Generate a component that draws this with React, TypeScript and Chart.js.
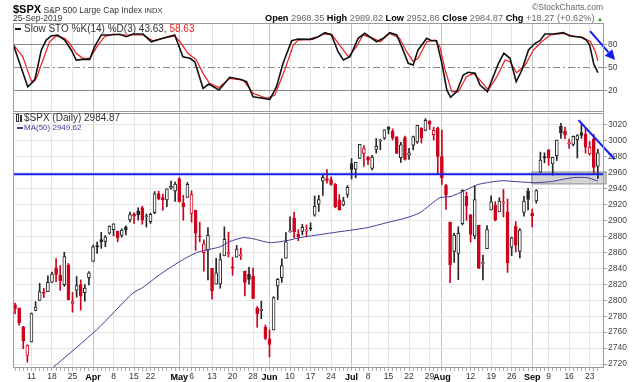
import React, { useEffect, useRef } from "react";
import { Chart, registerables } from "chart.js";
Chart.register(...registerables);

const FONT = "'Liberation Sans', Arial, Helvetica, sans-serif";

// Daily S&P 500 OHLC, 5-Mar-2019 .. 25-Sep-2019 (index 0 .. 142)
const opens = [
  2794.41, 2790.27, 2766.53, 2730.79, 2747.61, 2787.34, 2799.78, 2810.38, 2810.79, 2822.61, 2840.76, 2831.34, 2819.72, 2844.52, 2796.01, 2812.66, 2819.72, 2809.4, 2828.27,
  2848.63, 2868.24, 2876.09, 2873.99, 2884.16, 2888.46, 2886.58, 2881.37, 2891.92, 2900.86, 2908.32, 2912.26, 2916.04, 2904.81, 2898.78, 2909.99, 2934.0, 2928.99, 2925.81, 2940.58, 2937.14,
  2952.33, 2922.16, 2929.21, 2908.89, 2913.03, 2879.61, 2859.84, 2863.1, 2840.19, 2820.12, 2820.38, 2855.8, 2858.6, 2841.94, 2854.02, 2856.06, 2836.7, 2832.41, 2830.03, 2790.25, 2786.94, 2766.15,
  2751.53, 2762.64, 2818.09, 2828.51, 2852.87, 2885.83, 2903.27, 2882.73, 2886.24, 2886.82, 2889.75, 2906.71, 2920.55, 2949.6, 2952.71, 2951.42, 2945.78, 2926.07, 2919.66, 2932.94,
  2971.41, 2964.66, 2978.08, 2984.25, 2979.77, 2965.52, 2989.3, 2999.62, 3003.36, 3017.8, 3012.13, 3005.1, 2978.87, 3004.26, 2981.93, 2994.74, 2998.77, 3016.26, 3013.25, 3024.47, 3007.66, 3016.22,
  2980.32, 2943.9, 2898.07, 2861.18, 2858.65, 2896.21, 2930.51, 2907.07, 2880.72, 2894.15, 2846.2, 2864.74, 2913.48, 2919.01, 2911.01, 2922.04, 2911.07, 2866.7, 2893.14, 2861.28, 2910.37, 2937.09,
  2909.01, 2924.67, 2960.6, 2980.33, 2988.43, 2971.01, 2981.41, 3018.21, 3012.21, 2996.41, 2995.67, 3001.5, 3010.36, 3008.42, 2983.5, 3002.43, 2968.35,
];
const highs = [
  2796.44, 2790.27, 2767.25, 2744.13, 2784.0, 2798.32, 2821.24, 2815.0, 2830.73, 2835.41, 2852.42, 2843.54, 2860.31, 2846.16, 2809.79, 2829.87, 2825.56, 2819.71, 2836.03,
  2869.4, 2872.9, 2885.25, 2881.28, 2893.24, 2895.95, 2886.88, 2889.71, 2893.42, 2910.54, 2909.6, 2916.06, 2918.0, 2908.4, 2909.51, 2936.31, 2936.83, 2933.1, 2939.88, 2949.52, 2948.22,
  2954.13, 2931.68, 2947.85, 2937.32, 2913.03, 2897.96, 2875.97, 2891.31, 2840.19, 2852.54, 2858.68, 2892.15, 2885.48, 2853.86, 2868.88, 2865.47, 2836.7, 2841.36, 2840.51, 2792.03, 2799.0, 2768.98,
  2763.07, 2804.49, 2827.28, 2852.1, 2884.97, 2904.77, 2910.61, 2888.57, 2895.24, 2894.45, 2897.27, 2930.79, 2931.74, 2958.06, 2964.15, 2954.92, 2946.52, 2932.59, 2929.3, 2943.98,
  2977.93, 2973.21, 2995.84, 2994.03, 2980.76, 2981.9, 3002.98, 3002.33, 3013.92, 3017.8, 3015.02, 3005.26, 2998.28, 3006.02, 2990.71, 3005.9, 3019.59, 3016.31, 3027.98, 3025.61, 3017.19, 3017.4,
  3013.59, 2945.5, 2898.07, 2884.4, 2892.17, 2938.72, 2935.75, 2907.58, 2943.31, 2894.15, 2856.67, 2893.63, 2931.0, 2923.63, 2928.73, 2939.08, 2927.01, 2879.27, 2898.79, 2890.03, 2930.5, 2940.43,
  2914.39, 2938.84, 2985.86, 2985.03, 2989.43, 2979.39, 3000.93, 3021.99, 3017.33, 3002.19, 3006.21, 3007.83, 3021.19, 3016.37, 2999.15, 3007.98, 2989.82,
];
const lows = [
  2782.97, 2768.69, 2739.09, 2722.27, 2747.61, 2786.73, 2799.78, 2803.46, 2810.79, 2821.99, 2823.27, 2812.43, 2817.38, 2800.47, 2785.02, 2803.99, 2787.72, 2798.77, 2819.23,
  2848.63, 2858.75, 2865.17, 2867.14, 2882.99, 2880.78, 2873.33, 2879.13, 2881.99, 2898.37, 2896.48, 2900.71, 2895.45, 2891.9, 2896.35, 2908.53, 2926.05, 2912.84, 2917.56, 2939.35, 2924.11,
  2923.36, 2900.5, 2929.21, 2898.21, 2862.6, 2873.28, 2836.4, 2825.39, 2801.43, 2820.12, 2815.08, 2855.8, 2854.23, 2831.29, 2854.02, 2851.11, 2805.49, 2820.19, 2801.58, 2766.06, 2776.74, 2750.52,
  2728.81, 2762.64, 2800.92, 2822.45, 2852.87, 2885.51, 2878.53, 2874.68, 2881.99, 2879.62, 2887.3, 2905.44, 2911.43, 2931.5, 2946.87, 2944.05, 2916.01, 2912.99, 2918.57, 2929.05,
  2952.22, 2953.7, 2977.96, 2967.97, 2970.09, 2963.44, 2984.62, 2988.8, 3001.87, 3008.77, 3001.15, 2984.25, 2973.09, 2975.86, 2976.65, 2988.56, 2996.82, 2997.24, 3012.59, 3014.3, 3000.94, 2958.08,
  2945.23, 2914.11, 2822.12, 2847.42, 2825.71, 2894.47, 2900.15, 2873.14, 2877.05, 2839.64, 2825.51, 2864.74, 2913.48, 2899.6, 2911.01, 2904.51, 2834.97, 2856.0, 2860.59, 2853.05, 2905.67, 2913.32,
  2891.85, 2921.86, 2960.6, 2972.51, 2969.39, 2957.01, 2975.31, 3003.16, 3002.9, 2990.67, 2993.73, 2978.57, 3003.16, 2984.68, 2982.23, 2957.73, 2952.86,
];
const closes = [
  2789.65, 2771.45, 2748.93, 2743.07, 2783.3, 2791.52, 2810.92, 2808.48, 2822.48, 2832.94, 2832.57, 2824.23, 2854.88, 2800.71, 2798.36, 2818.46, 2805.37, 2815.44, 2834.4,
  2867.19, 2867.24, 2873.4, 2879.39, 2892.74, 2895.77, 2878.2, 2888.21, 2888.32, 2907.41, 2905.58, 2907.06, 2900.45, 2905.03, 2907.97, 2933.68, 2927.25, 2926.17, 2939.88, 2943.03, 2945.83,
  2923.73, 2917.52, 2945.64, 2932.47, 2884.05, 2879.42, 2870.72, 2881.4, 2811.87, 2834.41, 2850.96, 2876.32, 2859.53, 2840.23, 2864.36, 2856.27, 2822.24, 2826.06, 2802.39, 2783.02, 2788.86, 2752.06,
  2744.45, 2803.27, 2826.15, 2843.49, 2873.34, 2886.73, 2885.72, 2879.84, 2891.64, 2886.98, 2889.67, 2917.75, 2926.46, 2954.18, 2950.46, 2945.35, 2917.38, 2913.78, 2924.92, 2941.76,
  2964.33, 2973.01, 2995.82, 2990.41, 2975.95, 2979.63, 2993.07, 2999.91, 3013.77, 3014.3, 3004.04, 2984.42, 2995.11, 2976.61, 2985.03, 3005.47, 3019.56, 3003.67, 3025.86, 3020.97, 3013.18, 2980.38,
  2953.56, 2932.05, 2844.74, 2881.77, 2883.98, 2938.09, 2918.65, 2882.7, 2926.32, 2840.6, 2847.6, 2888.68, 2923.65, 2900.51, 2924.43, 2922.95, 2847.11, 2878.38, 2869.16, 2887.94, 2924.58, 2926.46,
  2906.27, 2937.78, 2976.0, 2978.71, 2978.43, 2979.39, 3000.93, 3009.57, 3007.39, 2997.96, 3005.7, 3006.73, 3006.79, 2992.07, 2991.78, 2966.6, 2984.87,
];
const closeBeforeFirst = 2792.81;

// x-axis labels (trading-day index -> text)
const tickDays = [4, 9, 14, 19, 24, 29, 33, 40, 43, 48, 53, 58, 62, 67, 72, 77, 82, 86, 91, 96, 101, 104, 111, 116, 121, 126, 130, 135, 140];
const tickLabels = ["11", "18", "25", "Apr", "8", "15", "22", "May", "6", "13", "20", "28", "Jun", "10", "17", "24", "Jul", "8", "15", "22", "29", "Aug", "12", "19", "26", "Sep", "9", "16", "23"];
const monthLabels = ["Apr", "May", "Jun", "Jul", "Aug", "Sep"];

const priceTicks = [2720, 2740, 2760, 2780, 2800, 2820, 2840, 2860, 2880, 2900, 2920, 2940, 2960, 2980, 3000, 3020];
const stochLevels = [20, 50, 80];

// MA(50): [day index, value]
const ma50: number[][] = [
  [8, 2711], [9.1, 2715], [19.9, 2763], [28.7, 2809], [31.1, 2816], [35.2, 2832], [40.1, 2848.5], [44.3, 2860], [49.9, 2867],
  [52.3, 2873.6], [55.5, 2878.6], [57.9, 2877.3], [62.1, 2872.3], [66.2, 2874.8], [69.4, 2878.6], [77.4, 2884.8], [85.7, 2891],
  [90.6, 2897.4], [95.5, 2903.7], [98.7, 2910], [103.5, 2928.8], [106, 2930], [110.1, 2938.8], [112.6, 2945], [116.5, 2948.8],
  [118.9, 2950], [122.3, 2948.8], [126.2, 2947.6], [130.4, 2948.8], [136, 2953.9], [139.4, 2953.9], [142, 2949.62],
];

// Slow stochastic %K and %D: [day index, value]
const stochK: number[][] = [
  [-0.5, 81], [1.1, 56], [3.1, 25.5], [4.8, 34], [6.4, 72.7], [7.6, 85.5], [8.8, 90.7], [10.4, 92], [12.1, 85.5], [13.7, 72.7],
  [14.9, 59.8], [16.5, 60.7], [18.2, 60.7], [19.4, 77], [21, 92], [23, 92], [25.5, 93], [27.1, 89.8], [28.7, 93.2], [31.2, 93.2],
  [33.2, 83.3], [36, 87.7], [38.9, 92], [40.9, 64], [42.6, 62], [43.8, 57.6], [45.8, 23.4], [47.2, 29], [49.7, 21.3], [52.3, 37.6],
  [54.8, 35], [56.4, 32], [58, 12.6], [62.1, 9.3], [63.7, 25.5], [65.3, 55.6], [67.4, 84.6], [69, 86.8], [71.8, 86.4], [73.9, 89.8],
  [75.5, 95], [77.1, 92], [78.7, 70.5], [80, 59.8], [81.6, 64], [83.6, 87.7], [85.2, 94.1], [88.1, 83.3], [89.7, 87.7], [91.3, 95],
  [93, 92], [94.2, 77], [95.8, 55.6], [97, 53.4], [98.2, 72.7], [100.3, 87.7], [101.5, 84.6], [102.7, 84.6], [104, 55.6], [105.2, 21.3],
  [106.1, 11.9], [107.6, 19.1], [109.2, 40.5], [110.4, 44], [112.1, 42.7], [113.3, 27.7], [115.1, 19.1], [116.5, 38.4], [117.8, 55.6],
  [119.1, 68.4], [120.6, 62], [122.1, 32], [123.5, 47], [125.1, 72.7], [126.7, 81.3], [127.9, 84.6], [129.1, 93.2], [131.2, 93.2],
  [133.6, 95], [135.2, 90.7], [138, 89], [139.2, 85.5], [140, 79], [141, 55], [142, 43.63],
];
const stochD: number[][] = [
  [-0.5, 80.4], [1.9, 64], [4, 32], [5.2, 36.3], [6.8, 59.8], [8.4, 83.3], [10, 90.7], [12.1, 87.7], [13.3, 81.3], [14.9, 68.4],
  [16.5, 62], [18.2, 62], [20.2, 79], [21.8, 89.8], [23.9, 93.2], [26.3, 92], [28.7, 92], [31.2, 92], [33.6, 84.6], [36, 87.7],
  [38.9, 90.7], [40.5, 81.3], [42.1, 68.4], [44.2, 59.8], [45.8, 42.7], [47.4, 30], [49.7, 24.5], [52.3, 36.3], [55.6, 34], [58, 17],
  [61.3, 10.6], [63.3, 14.8], [65.7, 47], [67.8, 79], [69, 85.5], [72.6, 86.4], [75.1, 93.2], [77.1, 93.2], [79.1, 79], [81.2, 64],
  [83.2, 77], [84.8, 92], [87.3, 87.7], [89, 83.3], [91.3, 94.1], [93.7, 87.7], [95.4, 70.5], [97, 58], [98.2, 62], [100.3, 83.3],
  [102.3, 85.5], [103.5, 77], [104.8, 47], [106.4, 19.1], [108, 19.1], [110, 38.4], [111.7, 42.7], [113.3, 34], [115.3, 21.3],
  [117.4, 38.4], [119.4, 59.8], [120.6, 57.6], [122.2, 43.5], [124.3, 53.4], [126.3, 72.7], [128.3, 83.3], [130.4, 92], [133.6, 94.1],
  [136, 90.7], [138.3, 89], [140.2, 83.3], [141.4, 70.5], [142, 58.63],
];

// Annotations
const supportLevel = 2958;
const supportZone = { from: 125.9, to: 144, low: 2946, high: 2961 };
const priceTrend: number[][] = [[137.3, 3026], [146.1, 2977]];
const stochTrend: number[][] = [[140.1, 97], [146.2, 59.8]];

const X_MIN = -0.5;
const X_MAX = 143.5;

const RED = "#d0021b";
const BLACK = "#262626";
const BLUE = "#1020e8";
const NAVY = "#3b3b9c";

function labelAt(v: number): string {
  const k = tickDays.indexOf(v);
  return k >= 0 ? tickLabels[k] : "";
}
function candleColor(i: number) {
  const prev = i === 0 ? closeBeforeFirst : closes[i - 1];
  return closes[i] >= prev ? BLACK : RED;
}

function xAxis(show: boolean): any {
  return {
    type: "linear",
    min: X_MIN,
    max: X_MAX,
    offset: false,
    afterBuildTicks: (s: any) => {
      s.ticks = closes.map((_, i) => ({ value: i }));
    },
    afterFit: (s: any) => {
      s.height = show ? 14 : 0;
      s.paddingLeft = 0;
      s.paddingRight = 0;
    },
    ticks: {
      display: show,
      autoSkip: false,
      maxRotation: 0,
      minRotation: 0,
      padding: 1,
      color: (c: any) => (monthLabels.includes(labelAt(c.tick?.value)) ? "#000" : "#333"),
      font: (c: any) =>
        monthLabels.includes(labelAt(c.tick?.value))
          ? { family: FONT, size: 9, weight: "bold" }
          : { family: FONT, size: 8.5 },
      callback: (v: any) => labelAt(v),
    },
    grid: {
      offset: false,
      drawTicks: show,
      tickLength: 3,
      tickColor: "#b0b0b0",
      lineWidth: 1,
      color: (c: any) => {
        const l = labelAt(c.tick?.value);
        if (!l) return "rgba(0,0,0,0)";
        return monthLabels.includes(l) ? "#c4c4c4" : "#e4e4e4";
      },
    },
    border: { display: false },
  };
}

const framePlugin = {
  id: "frame",
  afterDraw(chart: any) {
    const { ctx, chartArea: a } = chart;
    ctx.save();
    ctx.strokeStyle = "#9c9c9c";
    ctx.lineWidth = 1;
    ctx.strokeRect(Math.round(a.left) + 0.5, Math.round(a.top) + 0.5, Math.round(a.right - a.left) - 1, Math.round(a.bottom - a.top) - 1);
    ctx.restore();
  },
};

const zonePlugin = {
  id: "zone",
  beforeDatasetsDraw(chart: any) {
    const { ctx, scales } = chart;
    const x0 = scales.x.getPixelForValue(supportZone.from);
    const x1 = scales.x.getPixelForValue(supportZone.to);
    const y0 = scales.y.getPixelForValue(supportZone.high);
    const y1 = scales.y.getPixelForValue(supportZone.low);
    ctx.save();
    ctx.fillStyle = "rgba(160,160,160,0.45)";
    ctx.fillRect(x0, y0, x1 - x0, y1 - y0);
    ctx.strokeStyle = "#8c8c8c";
    ctx.lineWidth = 1;
    ctx.strokeRect(x0, y0, x1 - x0, y1 - y0);
    ctx.restore();
  },
};

const arrowPlugin = {
  id: "arrow",
  afterDatasetsDraw(chart: any) {
    const { ctx, scales } = chart;
    const xa = scales.x.getPixelForValue(stochTrend[0][0]);
    const ya = scales.y.getPixelForValue(stochTrend[0][1]);
    const xb = scales.x.getPixelForValue(stochTrend[1][0]);
    const yb = scales.y.getPixelForValue(stochTrend[1][1]);
    const ang = Math.atan2(yb - ya, xb - xa);
    const head = 10;
    const wing = 5;
    const bx = xb - head * Math.cos(ang);
    const by = yb - head * Math.sin(ang);
    ctx.save();
    ctx.strokeStyle = BLUE;
    ctx.fillStyle = BLUE;
    ctx.lineWidth = 2;
    ctx.beginPath();
    ctx.moveTo(xa, ya);
    ctx.lineTo(bx, by);
    ctx.stroke();
    ctx.beginPath();
    ctx.moveTo(xb, yb);
    ctx.lineTo(bx + wing * Math.sin(ang), by - wing * Math.cos(ang));
    ctx.lineTo(bx - wing * Math.sin(ang), by + wing * Math.cos(ang));
    ctx.closePath();
    ctx.fill();
    ctx.restore();
  },
};

function yFit(s: any) {
  s.width = 36;
  s.paddingTop = 0;
  s.paddingBottom = 0;
}

export default function App() {
  const stochRef = useRef<HTMLCanvasElement>(null);
  const priceRef = useRef<HTMLCanvasElement>(null);

  useEffect(() => {
    const stoch = new Chart(stochRef.current as HTMLCanvasElement, {
      type: "line",
      data: {
        datasets: [
          {
            label: "%K",
            data: stochK.map(([x, y]) => ({ x, y })),
            borderColor: "#111",
            borderWidth: 1.6,
            pointRadius: 0,
            tension: 0,
          },
          {
            label: "%D",
            data: stochD.map(([x, y]) => ({ x, y })),
            borderColor: "#ee1c1c",
            borderWidth: 1.2,
            pointRadius: 0,
            tension: 0,
          },
        ],
      },
      options: {
        responsive: false,
        animation: false,
        layout: { padding: { left: 13, right: 0, top: 23, bottom: 1 } },
        plugins: { legend: { display: false }, tooltip: { enabled: false } },
        events: [],
        scales: {
          x: xAxis(false),
          y: {
            type: "linear",
            position: "right",
            min: -7,
            max: 107.4,
            afterBuildTicks: (s: any) => {
              s.ticks = stochLevels.map((v) => ({ value: v }));
            },
            afterFit: yFit,
            ticks: { color: "#444", font: { family: FONT, size: 8.5 }, padding: 1, callback: (v: any) => String(v) },
            grid: { color: "#8a8a8a", drawTicks: true, tickLength: 3, tickColor: "#999" },
            border: {
              display: false,
              dash: (c: any) => (c.tick && c.tick.value === 50 ? [7, 3, 2, 3] : []),
            },
          },
        },
      } as any,
      plugins: [framePlugin, arrowPlugin],
    });

    const price = new Chart(priceRef.current as HTMLCanvasElement, {
      type: "bar",
      data: {
        datasets: [
          {
            type: "line",
            label: "MA(50)",
            data: ma50.map(([x, y]) => ({ x, y })),
            borderColor: NAVY,
            borderWidth: 1,
            pointRadius: 0,
            tension: 0.2,
            order: 0,
          },
          {
            type: "line",
            label: "support",
            data: [
              { x: X_MIN, y: supportLevel },
              { x: X_MAX, y: supportLevel },
            ],
            borderColor: BLUE,
            borderWidth: 2,
            pointRadius: 0,
            order: 0,
          },
          {
            type: "line",
            label: "trend",
            data: priceTrend.map(([x, y]) => ({ x, y })),
            borderColor: BLUE,
            borderWidth: 2,
            pointRadius: 0,
            clip: false,
            order: 0,
          },
          {
            type: "bar",
            label: "body",
            data: closes.map((c, i) => ({ x: i, y: [Math.min(opens[i], c), Math.max(opens[i], c)] })),
            grouped: false,
            barPercentage: 1,
            categoryPercentage: 1,
            maxBarThickness: 3,
            minBarLength: 1,
            borderWidth: 1,
            borderSkipped: false,
            borderColor: (c: any) => candleColor(c.dataIndex),
            backgroundColor: (c: any) => (closes[c.dataIndex] < opens[c.dataIndex] ? candleColor(c.dataIndex) : "#ffffff"),
            order: 1,
          },
          {
            type: "bar",
            label: "wick",
            data: closes.map((_, i) => ({ x: i, y: [lows[i], highs[i]] })),
            grouped: false,
            barPercentage: 1,
            categoryPercentage: 1,
            maxBarThickness: 1,
            minBarLength: 1,
            borderWidth: 0,
            backgroundColor: (c: any) => candleColor(c.dataIndex),
            order: 2,
          },
        ],
      },
      options: {
        responsive: false,
        animation: false,
        layout: { padding: { left: 13, right: 0, top: 13, bottom: 0 } },
        plugins: { legend: { display: false }, tooltip: { enabled: false } },
        events: [],
        scales: {
          x: xAxis(true),
          y: {
            type: "linear",
            position: "right",
            min: 2715,
            max: 3035,
            afterBuildTicks: (s: any) => {
              s.ticks = priceTicks.map((v) => ({ value: v }));
            },
            afterFit: yFit,
            ticks: { color: "#444", font: { family: FONT, size: 8.5 }, padding: 1, callback: (v: any) => String(v) },
            grid: { color: "#e6e6e6", drawTicks: true, tickLength: 3, tickColor: "#a0a0a0" },
            border: { display: false },
          },
        },
      } as any,
      plugins: [framePlugin, zonePlugin],
    });

    return () => {
      stoch.destroy();
      price.destroy();
    };
  }, []);

  const hdr: React.CSSProperties = { position: "absolute", whiteSpace: "nowrap", lineHeight: "12px" };

  return (
    <div
      style={{
        position: "fixed",
        left: 0,
        top: 0,
        width: 640,
        height: 382,
        background: "#fff",
        overflow: "hidden",
        fontFamily: FONT,
        color: "#222",
      }}
    >
      <canvas ref={stochRef} width={640} height={113} style={{ position: "absolute", left: 0, top: 0 }} />
      <canvas ref={priceRef} width={640} height={282} style={{ position: "absolute", left: 0, top: 100 }} />

      <div style={{ ...hdr, left: 13, top: 2 }}>
        <span style={{ fontSize: 11, fontWeight: "bold", color: "#000" }}>$SPX</span>
        <span style={{ fontSize: 8.5, color: "#333" }}> S&amp;P 500 Large Cap Index </span>
        <span style={{ fontSize: 7.5, color: "#333" }}>INDX</span>
      </div>
      <div style={{ ...hdr, right: 37, top: 1, fontSize: 8.5, color: "#666" }}>©StockCharts.com</div>
      <div style={{ ...hdr, left: 13, top: 12, fontSize: 8.5, color: "#333" }}>25-Sep-2019</div>
      <div style={{ ...hdr, right: 37, top: 12, fontSize: 9.2, color: "#666" }}>
        <b style={{ color: "#000" }}>Open</b> 2968.35 <b style={{ color: "#000" }}>High</b> 2989.82{" "}
        <b style={{ color: "#000" }}>Low</b> 2952.86 <b style={{ color: "#000" }}>Close</b> 2984.87{" "}
        <b style={{ color: "#000" }}>Chg</b> +18.27 (+0.62%) <span style={{ color: "#1a9a1a", fontSize: 6 }}>▲</span>
      </div>

      <div style={{ ...hdr, left: 15, top: 23, fontSize: 10, color: "#333" }}>
        <span style={{ display: "inline-block", width: 6, height: 2, background: "#111", verticalAlign: "middle", marginRight: 3 }} />
        Slow STO %K(14) %D(3) 43.63, <span style={{ color: "#ee1c1c" }}>58.63</span>
      </div>

      <div style={{ ...hdr, left: 16, top: 112, fontSize: 10, color: "#333" }}>
        <span style={{ display: "inline-block", width: 1, height: 6, border: "1px solid #333", verticalAlign: "middle", marginRight: 1 }} />
        <span style={{ display: "inline-block", width: 2, height: 7, background: "#333", verticalAlign: "middle", marginRight: 2 }} />
        $SPX (Daily) 2984.87
      </div>
      <div style={{ ...hdr, left: 17, top: 122, fontSize: 8, lineHeight: "11px", color: NAVY }}>
        <span style={{ display: "inline-block", width: 6, height: 1.5, background: NAVY, verticalAlign: "middle", marginRight: 1 }} />
        MA(50) 2949.62
      </div>
    </div>
  );
}
